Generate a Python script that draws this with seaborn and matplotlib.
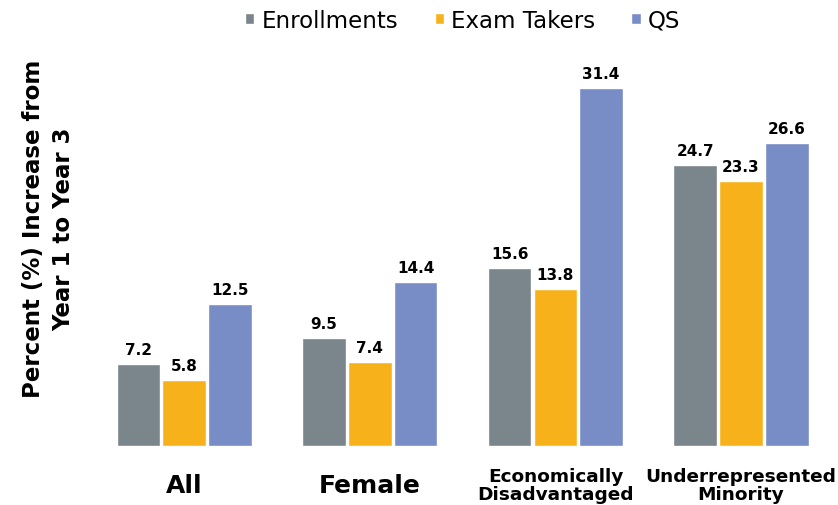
import pandas as pd
import seaborn as sns
import matplotlib.pyplot as plt

groups = ['All', 'Female', 'Economically\nDisadvantaged', 'Underrepresented\nMinority']
series = ['Enrollments', 'Exam Takers', 'QS']
enrollments = [7.2, 9.5, 15.6, 24.7]
exam_takers = [5.8, 7.4, 13.8, 23.3]
qs = [12.5, 14.4, 31.4, 26.6]
colors = ['#7a858c', '#f7b21b', '#788cc6']

df = pd.DataFrame({
    'group': groups * 3,
    'series': [s for s in series for _ in groups],
    'value': enrollments + exam_takers + qs,
})

sns.set_style('white')
plt.rcParams['font.family'] = ['DejaVu Sans']
plt.rcParams['text.color'] = 'black'
plt.rcParams['axes.labelcolor'] = 'black'
plt.rcParams['xtick.color'] = 'black'

fig = plt.figure(figsize=(8.38, 5.06), dpi=100)
ax = fig.add_axes([0.109, 0.1166, 0.886, 0.743])

sns.barplot(data=df, x='group', y='value', hue='series', order=groups,
            hue_order=series, palette=colors, width=0.74, gap=0.05,
            saturation=1, ax=ax, legend=True)

for c in ax.containers:
    ax.bar_label(c, fmt='%.1f', padding=5, fontsize=11, fontweight='bold',
                 color='black')

ax.set_ylim(0, 33)
ax.set_xlim(-0.5, 3.5)
sns.despine(left=True, bottom=True)
ax.set_yticks([])
ax.set_xlabel('')
ax.tick_params(axis='x', length=0, pad=28)
for lbl in ax.get_xticklabels():
    lbl.set_fontweight('bold')
    lbl.set_va('center')
    lbl.set_linespacing(1.0)
    if '\n' in lbl.get_text():
        lbl.set_fontsize(13.3)
    else:
        lbl.set_fontsize(18)

ax.set_ylabel('Percent (%) Increase from\nYear 1 to Year 3', fontsize=16.5,
              fontweight='bold', linespacing=1.4)
ax.yaxis.set_label_coords(-0.022, 0.58)

handles, labels = ax.get_legend_handles_labels()
ax.get_legend().remove()
fig.legend(handles, labels, loc='center', bbox_to_anchor=(0.552, 0.958),
           ncol=3, frameon=False, fontsize=16.5, handlelength=0.4,
           handleheight=0.4, handletextpad=0.3, columnspacing=1.6)

fig.savefig('out.png', dpi=100)
